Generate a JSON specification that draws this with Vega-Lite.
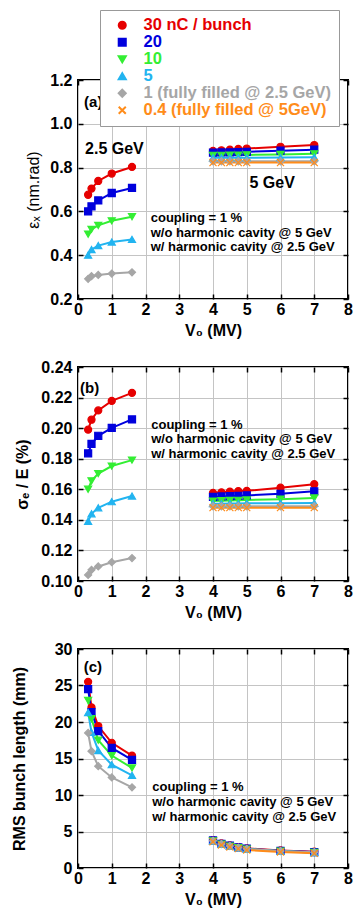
{
  "$schema": "https://vega.github.io/schema/vega-lite/v6.json",
  "background": "white",
  "padding": {"left": 9, "top": 9, "right": 4, "bottom": 4},
  "config": {
    "font": "Liberation Sans",
    "view": {"stroke": "black", "strokeWidth": 2}
  },
  "datasets": {
    "d": [
      {"p":"a","q":"30 nC / bunch","e":2.5,"v":0.3,"y":0.676},{"p":"a","q":"30 nC / bunch","e":2.5,"v":0.4,"y":0.704},{"p":"a","q":"30 nC / bunch","e":2.5,"v":0.6,"y":0.739},{"p":"a","q":"30 nC / bunch","e":2.5,"v":1.0,"y":0.773},{"p":"a","q":"30 nC / bunch","e":2.5,"v":1.6,"y":0.803},
      {"p":"a","q":"20","e":2.5,"v":0.3,"y":0.600},{"p":"a","q":"20","e":2.5,"v":0.4,"y":0.623},{"p":"a","q":"20","e":2.5,"v":0.6,"y":0.650},{"p":"a","q":"20","e":2.5,"v":1.0,"y":0.684},{"p":"a","q":"20","e":2.5,"v":1.6,"y":0.707},
      {"p":"a","q":"10","e":2.5,"v":0.3,"y":0.496},{"p":"a","q":"10","e":2.5,"v":0.4,"y":0.518},{"p":"a","q":"10","e":2.5,"v":0.6,"y":0.536},{"p":"a","q":"10","e":2.5,"v":1.0,"y":0.557},{"p":"a","q":"10","e":2.5,"v":1.6,"y":0.576},
      {"p":"a","q":"5","e":2.5,"v":0.3,"y":0.400},{"p":"a","q":"5","e":2.5,"v":0.4,"y":0.426},{"p":"a","q":"5","e":2.5,"v":0.6,"y":0.444},{"p":"a","q":"5","e":2.5,"v":1.0,"y":0.460},{"p":"a","q":"5","e":2.5,"v":1.6,"y":0.472},
      {"p":"a","q":"1 (fully filled @ 2.5 GeV)","e":2.5,"v":0.3,"y":0.292},{"p":"a","q":"1 (fully filled @ 2.5 GeV)","e":2.5,"v":0.4,"y":0.304},{"p":"a","q":"1 (fully filled @ 2.5 GeV)","e":2.5,"v":0.6,"y":0.310},{"p":"a","q":"1 (fully filled @ 2.5 GeV)","e":2.5,"v":1.0,"y":0.316},{"p":"a","q":"1 (fully filled @ 2.5 GeV)","e":2.5,"v":1.6,"y":0.322},
      {"p":"a","q":"30 nC / bunch","e":5,"v":4,"y":0.876},{"p":"a","q":"30 nC / bunch","e":5,"v":4.25,"y":0.879},{"p":"a","q":"30 nC / bunch","e":5,"v":4.5,"y":0.882},{"p":"a","q":"30 nC / bunch","e":5,"v":4.75,"y":0.885},{"p":"a","q":"30 nC / bunch","e":5,"v":5,"y":0.887},{"p":"a","q":"30 nC / bunch","e":5,"v":6,"y":0.895},{"p":"a","q":"30 nC / bunch","e":5,"v":7,"y":0.903},
      {"p":"a","q":"20","e":5,"v":4,"y":0.868},{"p":"a","q":"20","e":5,"v":4.25,"y":0.869},{"p":"a","q":"20","e":5,"v":4.5,"y":0.870},{"p":"a","q":"20","e":5,"v":4.75,"y":0.871},{"p":"a","q":"20","e":5,"v":5,"y":0.872},{"p":"a","q":"20","e":5,"v":6,"y":0.877},{"p":"a","q":"20","e":5,"v":7,"y":0.882},
      {"p":"a","q":"10","e":5,"v":4,"y":0.856},{"p":"a","q":"10","e":5,"v":4.25,"y":0.856},{"p":"a","q":"10","e":5,"v":4.5,"y":0.857},{"p":"a","q":"10","e":5,"v":4.75,"y":0.857},{"p":"a","q":"10","e":5,"v":5,"y":0.858},{"p":"a","q":"10","e":5,"v":6,"y":0.860},{"p":"a","q":"10","e":5,"v":7,"y":0.863},
      {"p":"a","q":"5","e":5,"v":4,"y":0.845},{"p":"a","q":"5","e":5,"v":4.25,"y":0.845},{"p":"a","q":"5","e":5,"v":4.5,"y":0.845},{"p":"a","q":"5","e":5,"v":4.75,"y":0.845},{"p":"a","q":"5","e":5,"v":5,"y":0.845},{"p":"a","q":"5","e":5,"v":6,"y":0.846},{"p":"a","q":"5","e":5,"v":7,"y":0.847},
      {"p":"a","q":"1 (fully filled @ 2.5 GeV)","e":5,"v":4,"y":0.829},{"p":"a","q":"1 (fully filled @ 2.5 GeV)","e":5,"v":4.25,"y":0.829},{"p":"a","q":"1 (fully filled @ 2.5 GeV)","e":5,"v":4.5,"y":0.829},{"p":"a","q":"1 (fully filled @ 2.5 GeV)","e":5,"v":4.75,"y":0.829},{"p":"a","q":"1 (fully filled @ 2.5 GeV)","e":5,"v":5,"y":0.829},{"p":"a","q":"1 (fully filled @ 2.5 GeV)","e":5,"v":6,"y":0.829},{"p":"a","q":"1 (fully filled @ 2.5 GeV)","e":5,"v":7,"y":0.829},
      {"p":"a","q":"0.4 (fully filled @ 5GeV)","e":5,"v":4,"y":0.823},{"p":"a","q":"0.4 (fully filled @ 5GeV)","e":5,"v":4.25,"y":0.823},{"p":"a","q":"0.4 (fully filled @ 5GeV)","e":5,"v":4.5,"y":0.823},{"p":"a","q":"0.4 (fully filled @ 5GeV)","e":5,"v":4.75,"y":0.823},{"p":"a","q":"0.4 (fully filled @ 5GeV)","e":5,"v":5,"y":0.823},{"p":"a","q":"0.4 (fully filled @ 5GeV)","e":5,"v":6,"y":0.823},{"p":"a","q":"0.4 (fully filled @ 5GeV)","e":5,"v":7,"y":0.823},

      {"p":"b","q":"30 nC / bunch","e":2.5,"v":0.3,"y":0.199},{"p":"b","q":"30 nC / bunch","e":2.5,"v":0.4,"y":0.2055},{"p":"b","q":"30 nC / bunch","e":2.5,"v":0.6,"y":0.2116},{"p":"b","q":"30 nC / bunch","e":2.5,"v":1.0,"y":0.2178},{"p":"b","q":"30 nC / bunch","e":2.5,"v":1.6,"y":0.2231},
      {"p":"b","q":"20","e":2.5,"v":0.3,"y":0.1835},{"p":"b","q":"20","e":2.5,"v":0.4,"y":0.1897},{"p":"b","q":"20","e":2.5,"v":0.6,"y":0.195},{"p":"b","q":"20","e":2.5,"v":1.0,"y":0.2002},{"p":"b","q":"20","e":2.5,"v":1.6,"y":0.2057},
      {"p":"b","q":"10","e":2.5,"v":0.3,"y":0.160},{"p":"b","q":"10","e":2.5,"v":0.4,"y":0.1655},{"p":"b","q":"10","e":2.5,"v":0.6,"y":0.1703},{"p":"b","q":"10","e":2.5,"v":1.0,"y":0.1752},{"p":"b","q":"10","e":2.5,"v":1.6,"y":0.1791},
      {"p":"b","q":"5","e":2.5,"v":0.3,"y":0.1391},{"p":"b","q":"5","e":2.5,"v":0.4,"y":0.144},{"p":"b","q":"5","e":2.5,"v":0.6,"y":0.1479},{"p":"b","q":"5","e":2.5,"v":1.0,"y":0.1519},{"p":"b","q":"5","e":2.5,"v":1.6,"y":0.1556},
      {"p":"b","q":"1 (fully filled @ 2.5 GeV)","e":2.5,"v":0.3,"y":0.104},{"p":"b","q":"1 (fully filled @ 2.5 GeV)","e":2.5,"v":0.4,"y":0.1073},{"p":"b","q":"1 (fully filled @ 2.5 GeV)","e":2.5,"v":0.6,"y":0.1095},{"p":"b","q":"1 (fully filled @ 2.5 GeV)","e":2.5,"v":1.0,"y":0.1123},{"p":"b","q":"1 (fully filled @ 2.5 GeV)","e":2.5,"v":1.6,"y":0.115},
      {"p":"b","q":"30 nC / bunch","e":5,"v":4,"y":0.1576},{"p":"b","q":"30 nC / bunch","e":5,"v":4.25,"y":0.158},{"p":"b","q":"30 nC / bunch","e":5,"v":4.5,"y":0.1585},{"p":"b","q":"30 nC / bunch","e":5,"v":4.75,"y":0.1588},{"p":"b","q":"30 nC / bunch","e":5,"v":5,"y":0.159},{"p":"b","q":"30 nC / bunch","e":5,"v":6,"y":0.161},{"p":"b","q":"30 nC / bunch","e":5,"v":7,"y":0.1633},
      {"p":"b","q":"20","e":5,"v":4,"y":0.155},{"p":"b","q":"20","e":5,"v":4.25,"y":0.1553},{"p":"b","q":"20","e":5,"v":4.5,"y":0.1555},{"p":"b","q":"20","e":5,"v":4.75,"y":0.1557},{"p":"b","q":"20","e":5,"v":5,"y":0.156},{"p":"b","q":"20","e":5,"v":6,"y":0.157},{"p":"b","q":"20","e":5,"v":7,"y":0.1587},
      {"p":"b","q":"10","e":5,"v":4,"y":0.1523},{"p":"b","q":"10","e":5,"v":4.25,"y":0.1525},{"p":"b","q":"10","e":5,"v":4.5,"y":0.1527},{"p":"b","q":"10","e":5,"v":4.75,"y":0.1528},{"p":"b","q":"10","e":5,"v":5,"y":0.153},{"p":"b","q":"10","e":5,"v":6,"y":0.1535},{"p":"b","q":"10","e":5,"v":7,"y":0.1543},
      {"p":"b","q":"5","e":5,"v":4,"y":0.1506},{"p":"b","q":"5","e":5,"v":4.25,"y":0.1506},{"p":"b","q":"5","e":5,"v":4.5,"y":0.1507},{"p":"b","q":"5","e":5,"v":4.75,"y":0.1507},{"p":"b","q":"5","e":5,"v":5,"y":0.1508},{"p":"b","q":"5","e":5,"v":6,"y":0.1509},{"p":"b","q":"5","e":5,"v":7,"y":0.151},
      {"p":"b","q":"1 (fully filled @ 2.5 GeV)","e":5,"v":4,"y":0.1489},{"p":"b","q":"1 (fully filled @ 2.5 GeV)","e":5,"v":4.25,"y":0.1489},{"p":"b","q":"1 (fully filled @ 2.5 GeV)","e":5,"v":4.5,"y":0.1489},{"p":"b","q":"1 (fully filled @ 2.5 GeV)","e":5,"v":4.75,"y":0.1489},{"p":"b","q":"1 (fully filled @ 2.5 GeV)","e":5,"v":5,"y":0.1489},{"p":"b","q":"1 (fully filled @ 2.5 GeV)","e":5,"v":6,"y":0.1489},{"p":"b","q":"1 (fully filled @ 2.5 GeV)","e":5,"v":7,"y":0.1489},
      {"p":"b","q":"0.4 (fully filled @ 5GeV)","e":5,"v":4,"y":0.148},{"p":"b","q":"0.4 (fully filled @ 5GeV)","e":5,"v":4.25,"y":0.148},{"p":"b","q":"0.4 (fully filled @ 5GeV)","e":5,"v":4.5,"y":0.148},{"p":"b","q":"0.4 (fully filled @ 5GeV)","e":5,"v":4.75,"y":0.148},{"p":"b","q":"0.4 (fully filled @ 5GeV)","e":5,"v":5,"y":0.148},{"p":"b","q":"0.4 (fully filled @ 5GeV)","e":5,"v":6,"y":0.148},{"p":"b","q":"0.4 (fully filled @ 5GeV)","e":5,"v":7,"y":0.148},

      {"p":"c","q":"30 nC / bunch","e":2.5,"v":0.3,"y":25.5},{"p":"c","q":"30 nC / bunch","e":2.5,"v":0.4,"y":22.0},{"p":"c","q":"30 nC / bunch","e":2.5,"v":0.6,"y":19.45},{"p":"c","q":"30 nC / bunch","e":2.5,"v":1.0,"y":17.15},{"p":"c","q":"30 nC / bunch","e":2.5,"v":1.6,"y":15.4},
      {"p":"c","q":"20","e":2.5,"v":0.3,"y":24.5},{"p":"c","q":"20","e":2.5,"v":0.4,"y":21.35},{"p":"c","q":"20","e":2.5,"v":0.6,"y":18.75},{"p":"c","q":"20","e":2.5,"v":1.0,"y":16.45},{"p":"c","q":"20","e":2.5,"v":1.6,"y":14.8},
      {"p":"c","q":"10","e":2.5,"v":0.3,"y":22.95},{"p":"c","q":"10","e":2.5,"v":0.4,"y":20.45},{"p":"c","q":"10","e":2.5,"v":0.6,"y":17.5},{"p":"c","q":"10","e":2.5,"v":1.0,"y":15.4},{"p":"c","q":"10","e":2.5,"v":1.6,"y":13.7},
      {"p":"c","q":"5","e":2.5,"v":0.3,"y":21.3},{"p":"c","q":"5","e":2.5,"v":0.4,"y":18.6},{"p":"c","q":"5","e":2.5,"v":0.6,"y":16.1},{"p":"c","q":"5","e":2.5,"v":1.0,"y":14.15},{"p":"c","q":"5","e":2.5,"v":1.6,"y":12.7},
      {"p":"c","q":"1 (fully filled @ 2.5 GeV)","e":2.5,"v":0.3,"y":18.5},{"p":"c","q":"1 (fully filled @ 2.5 GeV)","e":2.5,"v":0.4,"y":16.0},{"p":"c","q":"1 (fully filled @ 2.5 GeV)","e":2.5,"v":0.6,"y":13.95},{"p":"c","q":"1 (fully filled @ 2.5 GeV)","e":2.5,"v":1.0,"y":12.4},{"p":"c","q":"1 (fully filled @ 2.5 GeV)","e":2.5,"v":1.6,"y":11.05},
      {"p":"c","q":"30 nC / bunch","e":5,"v":4,"y":3.82},{"p":"c","q":"30 nC / bunch","e":5,"v":4.25,"y":3.37},{"p":"c","q":"30 nC / bunch","e":5,"v":4.5,"y":3.10},{"p":"c","q":"30 nC / bunch","e":5,"v":4.75,"y":2.87},{"p":"c","q":"30 nC / bunch","e":5,"v":5,"y":2.69},{"p":"c","q":"30 nC / bunch","e":5,"v":6,"y":2.41},{"p":"c","q":"30 nC / bunch","e":5,"v":7,"y":2.23},
      {"p":"c","q":"20","e":5,"v":4,"y":3.77},{"p":"c","q":"20","e":5,"v":4.25,"y":3.32},{"p":"c","q":"20","e":5,"v":4.5,"y":3.05},{"p":"c","q":"20","e":5,"v":4.75,"y":2.82},{"p":"c","q":"20","e":5,"v":5,"y":2.64},{"p":"c","q":"20","e":5,"v":6,"y":2.36},{"p":"c","q":"20","e":5,"v":7,"y":2.18},
      {"p":"c","q":"10","e":5,"v":4,"y":3.72},{"p":"c","q":"10","e":5,"v":4.25,"y":3.27},{"p":"c","q":"10","e":5,"v":4.5,"y":3.00},{"p":"c","q":"10","e":5,"v":4.75,"y":2.77},{"p":"c","q":"10","e":5,"v":5,"y":2.59},{"p":"c","q":"10","e":5,"v":6,"y":2.31},{"p":"c","q":"10","e":5,"v":7,"y":2.13},
      {"p":"c","q":"5","e":5,"v":4,"y":3.70},{"p":"c","q":"5","e":5,"v":4.25,"y":3.25},{"p":"c","q":"5","e":5,"v":4.5,"y":2.98},{"p":"c","q":"5","e":5,"v":4.75,"y":2.75},{"p":"c","q":"5","e":5,"v":5,"y":2.57},{"p":"c","q":"5","e":5,"v":6,"y":2.29},{"p":"c","q":"5","e":5,"v":7,"y":2.11},
      {"p":"c","q":"1 (fully filled @ 2.5 GeV)","e":5,"v":4,"y":3.75},{"p":"c","q":"1 (fully filled @ 2.5 GeV)","e":5,"v":4.25,"y":3.30},{"p":"c","q":"1 (fully filled @ 2.5 GeV)","e":5,"v":4.5,"y":3.03},{"p":"c","q":"1 (fully filled @ 2.5 GeV)","e":5,"v":4.75,"y":2.80},{"p":"c","q":"1 (fully filled @ 2.5 GeV)","e":5,"v":5,"y":2.62},{"p":"c","q":"1 (fully filled @ 2.5 GeV)","e":5,"v":6,"y":2.34},{"p":"c","q":"1 (fully filled @ 2.5 GeV)","e":5,"v":7,"y":2.16},
      {"p":"c","q":"0.4 (fully filled @ 5GeV)","e":5,"v":4,"y":3.60},{"p":"c","q":"0.4 (fully filled @ 5GeV)","e":5,"v":4.25,"y":3.15},{"p":"c","q":"0.4 (fully filled @ 5GeV)","e":5,"v":4.5,"y":2.88},{"p":"c","q":"0.4 (fully filled @ 5GeV)","e":5,"v":4.75,"y":2.65},{"p":"c","q":"0.4 (fully filled @ 5GeV)","e":5,"v":5,"y":2.47},{"p":"c","q":"0.4 (fully filled @ 5GeV)","e":5,"v":6,"y":2.19},{"p":"c","q":"0.4 (fully filled @ 5GeV)","e":5,"v":7,"y":2.01}
    ]
  },
  "columns": 1,
  "spacing": 68,
  "bounds": "flush",
  "concat": [
    {
      "width": 270, "height": 219,
      "resolve": {"axis": {"x": "independent", "y": "independent"}},
      "layer": [
        {
          "data": {"name": "d"},
          "transform": [{"filter": "datum.p == 'a'"}],
          "mark": {"type": "line", "strokeWidth": 2},
          "encoding": {
            "x": {"field": "v", "type": "quantitative", "scale": {"domain": [0, 8], "nice": false},
              "axis": {"orient": "bottom", "title": "V₀ (MV)", "values": [0,1,2,3,4,5,6,7,8], "tickCount": 20, "format": "d",
                "grid": true, "gridColor": "#c4c4c4", "gridWidth": 1, "gridOpacity": 1,
                "labelOverlap": false, "labelSeparation": 0, "labelBound": false, "labelFlush": false,
                "domain": false, "ticks": true, "tickSize": -5, "tickColor": "black", "tickWidth": 1.5, "labelPadding": 7,
                "labelFont": "Liberation Sans", "labelFontSize": 16, "labelFontWeight": "bold", "labelColor": "black",
                "titleFont": "Liberation Sans", "titleFontSize": 16, "titleFontWeight": "bold", "titleColor": "black", "titlePadding": 5}},
            "y": {"field": "y", "type": "quantitative", "scale": {"domain": [0.2, 1.2], "nice": false, "zero": false},
              "axis": {"orient": "left", "title": "εₓ (nm.rad)", "values": [0.2,0.4,0.6,0.8,1.0,1.2], "tickCount": 20, "format": ".1f",
                "grid": true, "gridColor": "#c4c4c4", "gridWidth": 1, "gridOpacity": 1,
                "labelOverlap": false, "labelSeparation": 0, "labelBound": false, "labelFlush": false,
                "domain": false, "ticks": true, "tickSize": -5, "tickColor": "black", "tickWidth": 1.5, "labelPadding": 11,
                "labelFont": "Liberation Sans", "labelFontSize": 16, "labelFontWeight": "bold", "labelColor": "black",
                "titleFont": "Liberation Sans", "titleFontSize": 16, "titleFontWeight": "normal", "titleColor": "black",
                "titleX": -45, "titleBaseline": "middle", "titleAngle": -90}},
            "color": {
              "field": "q", "type": "nominal",
              "scale": {"domain": ["30 nC / bunch","20","10","5","1 (fully filled @ 2.5 GeV)","0.4 (fully filled @ 5GeV)"], "range": ["#e60000","#0000dd","#33ee33","#22b4f0","#a6a6a6","#ff8c1a"]},
              "legend": {
                "orient": "none", "legendX": 22, "legendY": -70, "title": null,
                "strokeColor": "#999999", "fillColor": "white", "padding": 7,
                "labelFont": "Liberation Sans", "labelFontSize": 16.5, "labelFontWeight": "bold", "labelLimit": 400,
                "symbolSize": 64, "symbolOffset": 7, "labelOffset": 13, "rowPadding": 0, "symbolStrokeWidth": 2,
                "encode": {
                  "symbols": {"update": {
                    "fill": {"scale": "color", "field": "value"},
                    "stroke": {"scale": "color", "field": "value"},
                    "opacity": {"value": 1}
                  }},
                  "labels": {"update": {"fill": {"scale": "color", "field": "value"}}}
                }
              }
            },
            "detail": {"field": "e"}
          }
        },
        {
          "data": {"name": "d"},
          "transform": [{"filter": "datum.p == 'a'"}],
          "mark": {"type": "point", "filled": true, "opacity": 1, "strokeWidth": 1.2},
          "encoding": {
            "x": {"field": "v", "type": "quantitative", "axis": null},
            "y": {"field": "y", "type": "quantitative", "axis": null},
            "fill": {"field": "q", "type": "nominal", "scale": {"domain": ["30 nC / bunch","20","10","5","1 (fully filled @ 2.5 GeV)","0.4 (fully filled @ 5GeV)"], "range": ["#e60000","#0000dd","#33ee33","#22b4f0","#a6a6a6","#ff8c1a"]}, "legend": null},
            "stroke": {"field": "q", "type": "nominal", "scale": {"domain": ["30 nC / bunch","20","10","5","1 (fully filled @ 2.5 GeV)","0.4 (fully filled @ 5GeV)"], "range": ["#e60000","#0000dd","#33ee33","#22b4f0","#a6a6a6","#ff8c1a"]}, "legend": null},
            "shape": {"field": "q", "type": "nominal", "scale": {"domain": ["30 nC / bunch","20","10","5","1 (fully filled @ 2.5 GeV)","0.4 (fully filled @ 5GeV)"], "range": ["circle","square","triangle-down","triangle-up","diamond","M-1,-1L1,1M-1,1L1,-1"]}, "legend": null},
            "size": {"field": "q", "type": "nominal", "scale": {"domain": ["30 nC / bunch","20","10","5","1 (fully filled @ 2.5 GeV)","0.4 (fully filled @ 5GeV)"], "range": [50, 50, 42, 42, 22, 28]}, "legend": null}
          }
        },
        {
          "data": {"name": "d"},
          "transform": [{"filter": "datum.p == 'a'"}],
          "mark": {"type": "point", "opacity": 0},
          "encoding": {
            "x": {"field": "v", "type": "quantitative", "axis": {"orient": "top", "values": [0,1,2,3,4,5,6,7,8], "tickCount": 20, "labels": false, "title": null, "grid": false, "domain": false, "ticks": true, "tickSize": -5, "tickColor": "black", "tickWidth": 1.5}},
            "y": {"field": "y", "type": "quantitative", "axis": {"orient": "right", "values": [0.2,0.4,0.6,0.8,1.0,1.2], "tickCount": 20, "labels": false, "title": null, "grid": false, "domain": false, "ticks": true, "tickSize": -5, "tickColor": "black", "tickWidth": 1.5}}
          }
        },
        {
          "data": {"values": [{"t": "(a)"}]},
          "mark": {"type": "text", "align": "left", "baseline": "middle", "fontSize": 15, "fontWeight": "bold", "color": "black", "font": "Liberation Sans"},
          "encoding": {"x": {"datum": 0.18, "axis": null}, "y": {"datum": 1.1, "axis": null}, "text": {"field": "t"}}
        },
        {
          "data": {"values": [{"t": "2.5 GeV"}]},
          "mark": {"type": "text", "align": "left", "baseline": "middle", "fontSize": 16, "fontWeight": "bold", "color": "black", "font": "Liberation Sans"},
          "encoding": {"x": {"datum": 0.21, "axis": null}, "y": {"datum": 0.885, "axis": null}, "text": {"field": "t"}}
        },
        {
          "data": {"values": [{"t": "5 GeV"}]},
          "mark": {"type": "text", "align": "left", "baseline": "middle", "fontSize": 16, "fontWeight": "bold", "color": "black", "font": "Liberation Sans"},
          "encoding": {"x": {"datum": 5.08, "axis": null}, "y": {"datum": 0.73, "axis": null}, "text": {"field": "t"}}
        },
        {
          "data": {"values": [{"t": "coupling = 1 %\nw/o harmonic cavity @ 5 GeV\nw/ harmonic cavity @ 2.5 GeV"}]},
          "mark": {"type": "text", "align": "left", "baseline": "alphabetic", "fontSize": 13, "fontWeight": "bold", "color": "black", "font": "Liberation Sans", "lineBreak": "\n", "lineHeight": 14.7},
          "encoding": {"x": {"datum": 2.155, "axis": null}, "y": {"datum": 0.552, "axis": null}, "text": {"field": "t"}}
        }
      ]
    },
    {
      "width": 270, "height": 214,
      "resolve": {"axis": {"x": "independent", "y": "independent"}},
      "layer": [
        {
          "data": {"name": "d"},
          "transform": [{"filter": "datum.p == 'b'"}],
          "mark": {"type": "line", "strokeWidth": 2},
          "encoding": {
            "x": {"field": "v", "type": "quantitative", "scale": {"domain": [0, 8], "nice": false},
              "axis": {"orient": "bottom", "title": "V₀ (MV)", "values": [0,1,2,3,4,5,6,7,8], "tickCount": 20, "format": "d",
                "grid": true, "gridColor": "#c4c4c4", "gridWidth": 1, "gridOpacity": 1,
                "labelOverlap": false, "labelSeparation": 0, "labelBound": false, "labelFlush": false,
                "domain": false, "ticks": true, "tickSize": -5, "tickColor": "black", "tickWidth": 1.5, "labelPadding": 7,
                "labelFont": "Liberation Sans", "labelFontSize": 16, "labelFontWeight": "bold", "labelColor": "black",
                "titleFont": "Liberation Sans", "titleFontSize": 16, "titleFontWeight": "bold", "titleColor": "black", "titlePadding": 5}},
            "y": {"field": "y", "type": "quantitative", "scale": {"domain": [0.1, 0.24], "nice": false, "zero": false},
              "axis": {"orient": "left", "title": "σₑ / E (%)", "values": [0.10,0.12,0.14,0.16,0.18,0.20,0.22,0.24], "tickCount": 20, "format": ".2f",
                "grid": true, "gridColor": "#c4c4c4", "gridWidth": 1, "gridOpacity": 1,
                "labelOverlap": false, "labelSeparation": 0, "labelBound": false, "labelFlush": false,
                "domain": false, "ticks": true, "tickSize": -5, "tickColor": "black", "tickWidth": 1.5, "labelPadding": 11,
                "labelFont": "Liberation Sans", "labelFontSize": 16, "labelFontWeight": "bold", "labelColor": "black",
                "titleFont": "Liberation Sans", "titleFontSize": 16, "titleFontWeight": "bold", "titleColor": "black",
                "titleX": -56, "titleBaseline": "middle", "titleAngle": -90}},
            "color": {"field": "q", "type": "nominal"},
            "detail": {"field": "e"}
          }
        },
        {
          "data": {"name": "d"},
          "transform": [{"filter": "datum.p == 'b'"}],
          "mark": {"type": "point", "filled": true, "opacity": 1, "strokeWidth": 1.2},
          "encoding": {
            "x": {"field": "v", "type": "quantitative", "axis": null},
            "y": {"field": "y", "type": "quantitative", "axis": null},
            "fill": {"field": "q", "type": "nominal", "legend": null},
            "stroke": {"field": "q", "type": "nominal", "legend": null},
            "shape": {"field": "q", "type": "nominal", "legend": null},
            "size": {"field": "q", "type": "nominal", "legend": null}
          }
        },
        {
          "data": {"name": "d"},
          "transform": [{"filter": "datum.p == 'b'"}],
          "mark": {"type": "point", "opacity": 0},
          "encoding": {
            "x": {"field": "v", "type": "quantitative", "axis": {"orient": "top", "values": [0,1,2,3,4,5,6,7,8], "tickCount": 20, "labels": false, "title": null, "grid": false, "domain": false, "ticks": true, "tickSize": -5, "tickColor": "black", "tickWidth": 1.5}},
            "y": {"field": "y", "type": "quantitative", "axis": {"orient": "right", "values": [0.10,0.12,0.14,0.16,0.18,0.20,0.22,0.24], "tickCount": 20, "labels": false, "title": null, "grid": false, "domain": false, "ticks": true, "tickSize": -5, "tickColor": "black", "tickWidth": 1.5}}
          }
        },
        {
          "data": {"values": [{"t": "(b)"}]},
          "mark": {"type": "text", "align": "left", "baseline": "middle", "fontSize": 15, "fontWeight": "bold", "color": "black", "font": "Liberation Sans"},
          "encoding": {"x": {"datum": 0.06, "axis": null}, "y": {"datum": 0.226, "axis": null}, "text": {"field": "t"}}
        },
        {
          "data": {"values": [{"t": "coupling = 1 %\nw/o harmonic cavity @ 5 GeV\nw/ harmonic cavity @ 2.5 GeV"}]},
          "mark": {"type": "text", "align": "left", "baseline": "alphabetic", "fontSize": 13, "fontWeight": "bold", "color": "black", "font": "Liberation Sans", "lineBreak": "\n", "lineHeight": 14.7},
          "encoding": {"x": {"datum": 2.17, "axis": null}, "y": {"datum": 0.1996, "axis": null}, "text": {"field": "t"}}
        }
      ]
    },
    {
      "width": 270, "height": 219,
      "resolve": {"axis": {"x": "independent", "y": "independent"}},
      "layer": [
        {
          "data": {"name": "d"},
          "transform": [{"filter": "datum.p == 'c'"}],
          "mark": {"type": "line", "strokeWidth": 2},
          "encoding": {
            "x": {"field": "v", "type": "quantitative", "scale": {"domain": [0, 8], "nice": false},
              "axis": {"orient": "bottom", "title": "V₀ (MV)", "values": [0,1,2,3,4,5,6,7,8], "tickCount": 20, "format": "d",
                "grid": true, "gridColor": "#c4c4c4", "gridWidth": 1, "gridOpacity": 1,
                "labelOverlap": false, "labelSeparation": 0, "labelBound": false, "labelFlush": false,
                "domain": false, "ticks": true, "tickSize": -5, "tickColor": "black", "tickWidth": 1.5, "labelPadding": 7,
                "labelFont": "Liberation Sans", "labelFontSize": 16, "labelFontWeight": "bold", "labelColor": "black",
                "titleFont": "Liberation Sans", "titleFontSize": 16, "titleFontWeight": "bold", "titleColor": "black", "titlePadding": 5}},
            "y": {"field": "y", "type": "quantitative", "scale": {"domain": [0, 30], "nice": false},
              "axis": {"orient": "left", "title": "RMS bunch length (mm)", "values": [0,5,10,15,20,25,30], "tickCount": 20, "format": "d",
                "grid": true, "gridColor": "#c4c4c4", "gridWidth": 1, "gridOpacity": 1,
                "labelOverlap": false, "labelSeparation": 0, "labelBound": false, "labelFlush": false,
                "domain": false, "ticks": true, "tickSize": -5, "tickColor": "black", "tickWidth": 1.5, "labelPadding": 11,
                "labelFont": "Liberation Sans", "labelFontSize": 16, "labelFontWeight": "bold", "labelColor": "black",
                "titleFont": "Liberation Sans", "titleFontSize": 16, "titleFontWeight": "bold", "titleColor": "black",
                "titleX": -59, "titleBaseline": "middle", "titleAngle": -90}},
            "color": {"field": "q", "type": "nominal"},
            "detail": {"field": "e"}
          }
        },
        {
          "data": {"name": "d"},
          "transform": [{"filter": "datum.p == 'c'"}],
          "mark": {"type": "point", "filled": true, "opacity": 1, "strokeWidth": 1.2},
          "encoding": {
            "x": {"field": "v", "type": "quantitative", "axis": null},
            "y": {"field": "y", "type": "quantitative", "axis": null},
            "fill": {"field": "q", "type": "nominal", "legend": null},
            "stroke": {"field": "q", "type": "nominal", "legend": null},
            "shape": {"field": "q", "type": "nominal", "legend": null},
            "size": {"field": "q", "type": "nominal", "legend": null}
          }
        },
        {
          "data": {"name": "d"},
          "transform": [{"filter": "datum.p == 'c'"}],
          "mark": {"type": "point", "opacity": 0},
          "encoding": {
            "x": {"field": "v", "type": "quantitative", "axis": {"orient": "top", "values": [0,1,2,3,4,5,6,7,8], "tickCount": 20, "labels": false, "title": null, "grid": false, "domain": false, "ticks": true, "tickSize": -5, "tickColor": "black", "tickWidth": 1.5}},
            "y": {"field": "y", "type": "quantitative", "axis": {"orient": "right", "values": [0,5,10,15,20,25,30], "tickCount": 20, "labels": false, "title": null, "grid": false, "domain": false, "ticks": true, "tickSize": -5, "tickColor": "black", "tickWidth": 1.5}}
          }
        },
        {
          "data": {"values": [{"t": "(c)"}]},
          "mark": {"type": "text", "align": "left", "baseline": "middle", "fontSize": 15, "fontWeight": "bold", "color": "black", "font": "Liberation Sans"},
          "encoding": {"x": {"datum": 0.17, "axis": null}, "y": {"datum": 27.5, "axis": null}, "text": {"field": "t"}}
        },
        {
          "data": {"values": [{"t": "coupling = 1 %\nw/o harmonic cavity @ 5 GeV\nw/ harmonic cavity @ 2.5 GeV"}]},
          "mark": {"type": "text", "align": "left", "baseline": "alphabetic", "fontSize": 13, "fontWeight": "bold", "color": "black", "font": "Liberation Sans", "lineBreak": "\n", "lineHeight": 14.7},
          "encoding": {"x": {"datum": 2.2, "axis": null}, "y": {"datum": 10.5, "axis": null}, "text": {"field": "t"}}
        }
      ]
    }
  ]
}
